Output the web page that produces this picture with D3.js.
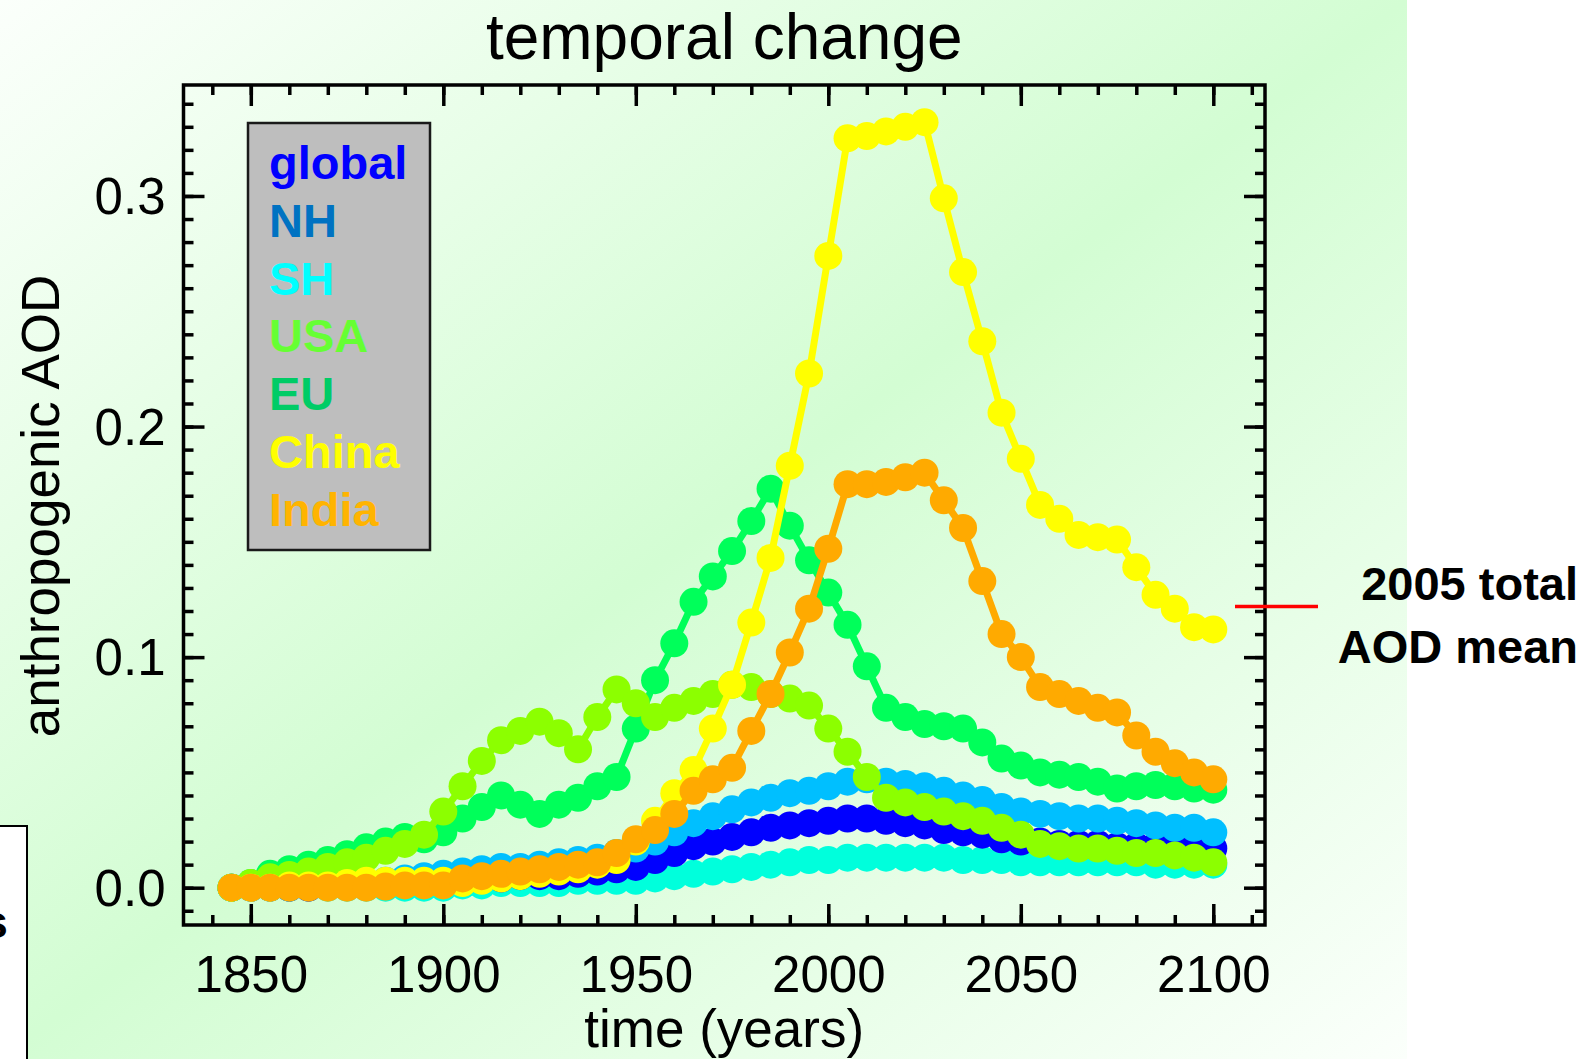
<!DOCTYPE html>
<html>
<head>
<meta charset="utf-8">
<script src="https://cdnjs.cloudflare.com/ajax/libs/d3/7.8.5/d3.min.js"></script>
<style>
  html, body { margin: 0; padding: 0; background: #ffffff; }
  svg { display: block; }
  text { font-family: "Liberation Sans", Arial, Helvetica, sans-serif; }
</style>
</head>
<body>
<svg id="chart" width="1592" height="1059"></svg>
<script>
// ---------------- DATA ----------------
const years = [1845,1850,1855,1860,1865,1870,1875,1880,1885,1890,
               1895,1900,1905,1910,1915,1920,1925,1930,1935,1940,
               1945,1950,1955,1960,1965,1970,1975,1980,1985,1990,
               1995,2000,2005,2010,2015,2020,2025,2030,2035,2040,
               2045,2050,2055,2060,2065,2070,2075,2080,2085,2090,
               2095,2100];

const globalAOD = [0.000,0.000,0.000,0.000,0.000,0.001,0.001,0.001,0.002,0.002,
                   0.002,0.003,0.003,0.004,0.004,0.005,0.005,0.005,0.006,0.007,
                   0.008,0.009,0.012,0.015,0.018,0.020,0.022,0.024,0.026,0.027,
                   0.028,0.029,0.030,0.030,0.029,0.028,0.027,0.025,0.024,0.023,
                   0.021,0.020,0.020,0.019,0.019,0.019,0.018,0.018,0.018,0.018,
                   0.017,0.017];

const nhAOD = [0.000,0.000,0.000,0.000,0.001,0.001,0.001,0.002,0.003,0.004,
               0.005,0.006,0.007,0.008,0.009,0.009,0.010,0.011,0.012,0.013,
               0.015,0.017,0.020,0.024,0.028,0.031,0.034,0.037,0.039,0.041,
               0.042,0.044,0.046,0.047,0.046,0.045,0.044,0.042,0.040,0.038,
               0.035,0.033,0.032,0.031,0.030,0.030,0.029,0.028,0.027,0.026,
               0.026,0.024];

const shAOD = [0.000,0.000,0.000,0.000,0.000,0.000,0.000,0.000,0.000,0.000,
               0.000,0.000,0.001,0.001,0.002,0.002,0.002,0.002,0.003,0.003,
               0.003,0.003,0.004,0.005,0.006,0.007,0.008,0.009,0.010,0.011,
               0.012,0.012,0.013,0.013,0.013,0.013,0.013,0.013,0.012,0.012,
               0.012,0.011,0.011,0.011,0.011,0.011,0.011,0.011,0.010,0.010,
               0.010,0.010];

const usaAOD = [0.000,0.002,0.0045,0.0055,0.007,0.009,0.011,0.013,0.016,0.019,
                0.023,0.033,0.044,0.055,0.064,0.068,0.072,0.067,0.060,0.074,
                0.086,0.080,0.074,0.078,0.081,0.084,0.088,0.087,0.084,0.082,
                0.079,0.069,0.059,0.048,0.039,0.037,0.035,0.033,0.031,0.029,
                0.026,0.023,0.019,0.018,0.017,0.017,0.016,0.015,0.015,0.014,
                0.013,0.011];

const euAOD = [0.000,0.002,0.006,0.008,0.010,0.012,0.0145,0.0175,0.020,0.022,
               0.021,0.024,0.030,0.035,0.040,0.036,0.032,0.036,0.039,0.044,
               0.048,0.069,0.090,0.106,0.124,0.135,0.146,0.159,0.173,0.157,
               0.142,0.128,0.114,0.096,0.078,0.074,0.071,0.070,0.069,0.063,
               0.056,0.053,0.050,0.049,0.048,0.046,0.043,0.044,0.0445,0.044,
               0.043,0.0425];

const chinaAOD = [0.000,0.000,0.000,0.001,0.001,0.001,0.002,0.003,0.003,0.003,
                  0.003,0.003,0.002,0.003,0.004,0.005,0.006,0.007,0.008,0.010,
                  0.012,0.020,0.029,0.041,0.051,0.069,0.088,0.115,0.143,0.183,
                  0.223,0.274,0.325,0.326,0.328,0.330,0.332,0.299,0.267,0.237,
                  0.206,0.186,0.166,0.160,0.153,0.152,0.151,0.139,0.127,0.121,
                  0.113,0.112];

const indiaAOD = [0.000,0.000,0.000,0.000,0.000,0.000,0.000,0.000,0.0005,0.001,
                  0.001,0.001,0.004,0.005,0.006,0.007,0.008,0.009,0.010,0.011,
                  0.015,0.021,0.025,0.032,0.042,0.047,0.052,0.068,0.084,0.102,
                  0.121,0.147,0.175,0.175,0.176,0.178,0.180,0.168,0.156,0.133,
                  0.110,0.100,0.087,0.084,0.081,0.078,0.076,0.066,0.059,0.054,
                  0.050,0.047];

const legendLabels = ["global","NH","SH","USA","EU","China","India"];
const xTickValues = [1850,1900,1950,2000,2050,2100];
const xTickLabels = ["1850","1900","1950","2000","2050","2100"];
const yTickValues = [0.0,0.1,0.2,0.3];
const yTickLabels = ["0.0","0.1","0.2","0.3"];
const totalAOD2005 = 0.122;

(function(){
// ---------------- STYLE ----------------
const seriesData = {global: globalAOD, NH: nhAOD, SH: shAOD, USA: usaAOD, EU: euAOD, China: chinaAOD, India: indiaAOD};
const plotColor = {global:"#0000ff", NH:"#00bfff", SH:"#00ffdc", USA:"#8cff00", EU:"#00ff5a", China:"#ffff00", India:"#ffaa00"};
const legendColor = {global:"#0000ff", NH:"#0072c2", SH:"#00ffff", USA:"#66ff33", EU:"#00cc66", China:"#ffff00", India:"#ffb400"};
const drawOrder = ["SH","global","NH","EU","USA","China","India"];

const svg = d3.select("#chart");

// background panel with diagonal gradient
const defs = svg.append("defs");
const grad = defs.append("linearGradient").attr("id","bg")
  .attr("x1","0").attr("y1","0").attr("x2","1").attr("y2","1");
grad.append("stop").attr("offset","0").attr("stop-color","#fbfffb");
grad.append("stop").attr("offset","0.5").attr("stop-color","#d3fdd3");
grad.append("stop").attr("offset","1").attr("stop-color","#fbfffb");
svg.append("rect").attr("x",0).attr("y",0).attr("width",1407).attr("height",1059).attr("fill","url(#bg)");

// partial white box at the left edge
svg.append("rect").attr("x",-3).attr("y",826).attr("width",30).attr("height",260)
  .attr("fill","#ffffff").attr("stroke","#000").attr("stroke-width",2);
svg.append("text").attr("x",8).attr("y",938).attr("text-anchor","end")
  .attr("font-size",47).attr("font-weight","bold").attr("fill","#000").text("s");

// scales
const pL = 183.5, pR = 1265, pT = 85, pB = 925;
const x = d3.scaleLinear().domain([1832.52, 2113.43]).range([pL, pR]);
const y = d3.scaleLinear().domain([-0.01618, 0.34813]).range([pB, pT]);

// series
const line = d3.line().x((d,i) => x(years[i])).y(d => y(d));
drawOrder.forEach(name => {
  const vals = seriesData[name];
  const g = svg.append("g").attr("class","series-"+name);
  g.append("path").datum(vals).attr("d", line)
    .attr("fill","none").attr("stroke", plotColor[name]).attr("stroke-width",7)
    .attr("stroke-linejoin","round");
  g.selectAll("circle").data(vals).join("circle")
    .attr("cx",(d,i) => x(years[i])).attr("cy", d => y(d)).attr("r",14)
    .attr("fill", plotColor[name]);
});

// frame
svg.append("rect").attr("x",pL).attr("y",pT).attr("width",pR-pL).attr("height",pB-pT)
  .attr("fill","none").attr("stroke","#000").attr("stroke-width",3.5);

function styleTicks(g){
  g.select(".domain").remove();
  g.selectAll("line").attr("stroke","#000").attr("stroke-width",3.5);
}
const xMinor = d3.range(1840, 2111, 10);
const yMinor = d3.range(-1, 35).map(v => v/100);
const fontFam = '"Liberation Sans", Arial, sans-serif';

// bottom axis
svg.append("g").attr("transform",`translate(0,${pB})`)
  .call(d3.axisBottom(x).tickValues(xMinor).tickSize(-10).tickFormat("")).call(styleTicks);
const gxb = svg.append("g").attr("transform",`translate(0,${pB})`)
  .call(d3.axisBottom(x).tickValues(xTickValues).tickSize(-21).tickPadding(31)
        .tickFormat((d,i) => xTickLabels[i])).call(styleTicks);
gxb.attr("font-size",51).attr("font-family",fontFam);
gxb.selectAll("text").attr("fill","#000");
// top axis
svg.append("g").attr("transform",`translate(0,${pT})`)
  .call(d3.axisTop(x).tickValues(xMinor).tickSize(-10).tickFormat("")).call(styleTicks);
svg.append("g").attr("transform",`translate(0,${pT})`)
  .call(d3.axisTop(x).tickValues(xTickValues).tickSize(-21).tickFormat("")).call(styleTicks);
// left axis
svg.append("g").attr("transform",`translate(${pL},0)`)
  .call(d3.axisLeft(y).tickValues(yMinor).tickSize(-10).tickFormat("")).call(styleTicks);
const gyl = svg.append("g").attr("transform",`translate(${pL},0)`)
  .call(d3.axisLeft(y).tickValues(yTickValues).tickSize(-21).tickPadding(18)
        .tickFormat((d,i) => yTickLabels[i])).call(styleTicks);
gyl.attr("font-size",51).attr("font-family",fontFam);
gyl.selectAll("text").attr("fill","#000").attr("dy","0.35em");
// right axis
svg.append("g").attr("transform",`translate(${pR},0)`)
  .call(d3.axisRight(y).tickValues(yMinor).tickSize(-10).tickFormat("")).call(styleTicks);
svg.append("g").attr("transform",`translate(${pR},0)`)
  .call(d3.axisRight(y).tickValues(yTickValues).tickSize(-21).tickFormat("")).call(styleTicks);

// titles
svg.append("text").attr("x",(pL+pR)/2).attr("y",59).attr("text-anchor","middle")
  .attr("font-size",64).attr("fill","#000").text("temporal change");
svg.append("text").attr("x",(pL+pR)/2).attr("y",1047).attr("text-anchor","middle")
  .attr("font-size",53).attr("fill","#000").text("time (years)");
svg.append("text").attr("transform","translate(59,506) rotate(-90)").attr("text-anchor","middle")
  .attr("font-size",53).attr("fill","#000").text("anthropogenic AOD");

// legend
svg.append("rect").attr("x",248).attr("y",123).attr("width",182).attr("height",427)
  .attr("fill","#bebebe").attr("stroke","#1a1a1a").attr("stroke-width",2.5);
svg.append("g").selectAll("text").data(legendLabels).join("text")
  .attr("x",269).attr("y",(d,i) => 179 + i*57.75)
  .attr("font-size",47).attr("font-weight","bold")
  .attr("fill", d => legendColor[d]).text(d => d);

// 2005 total AOD mean marker
svg.append("line").attr("x1",1235).attr("x2",1318).attr("y1",y(totalAOD2005)).attr("y2",y(totalAOD2005))
  .attr("stroke","#ff0000").attr("stroke-width",3.5);
svg.append("text").attr("x",1578).attr("y",600).attr("text-anchor","end")
  .attr("font-size",47).attr("font-weight","bold").attr("fill","#000").text("2005 total");
svg.append("text").attr("x",1578).attr("y",663).attr("text-anchor","end")
  .attr("font-size",47).attr("font-weight","bold").attr("fill","#000").text("AOD mean");
})();
</script>
</body>
</html>
